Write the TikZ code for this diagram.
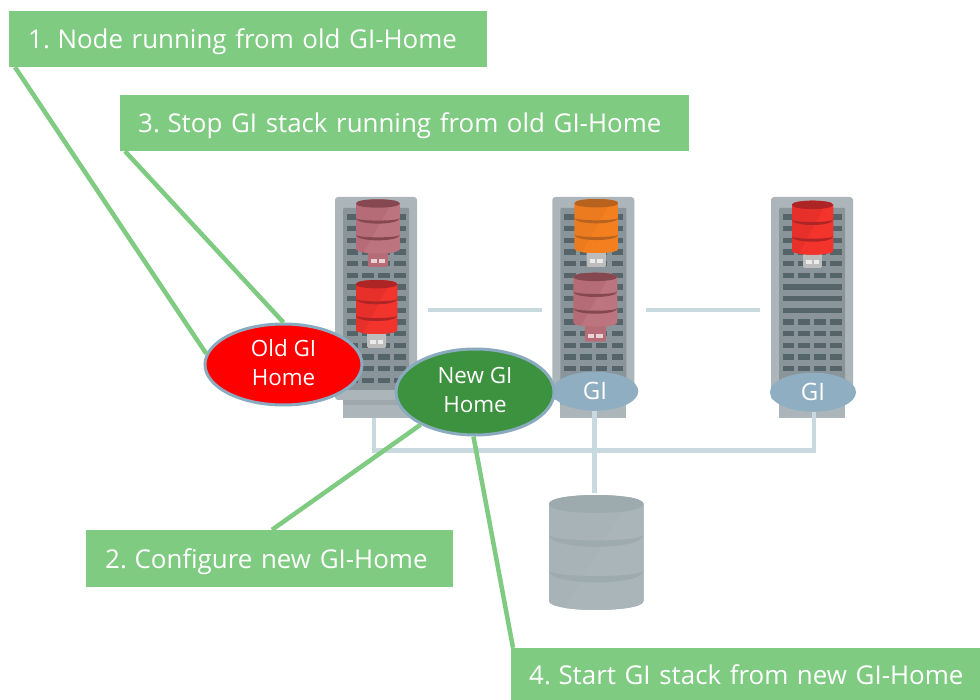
\documentclass[tikz,border=0pt]{standalone}
\usepackage{fontspec}
\setmainfont{Open Sans}
\usetikzlibrary{shapes.geometric}
\definecolor{boxgreen}{HTML}{7FCB82}
\definecolor{linkblue}{HTML}{C8DAE0}
\definecolor{ringblue}{HTML}{8AABBF}
\definecolor{giblue}{HTML}{8FAEC2}
\definecolor{newgreen}{HTML}{3C923E}
\definecolor{srvouter}{HTML}{ACB6BA}
\definecolor{srvinner}{HTML}{89959A}
\definecolor{srvslot}{HTML}{556469}
\definecolor{srvband}{HTML}{9EA9AD}
\definecolor{rosemain}{HTML}{B56C76}
\definecolor{roselight}{HTML}{BC747E}
\definecolor{rosedark}{HTML}{854850}
\definecolor{redmain}{HTML}{E8302B}
\definecolor{redlight}{HTML}{F2342D}
\definecolor{reddark}{HTML}{AE2526}
\definecolor{orgmain}{HTML}{EC7A1E}
\definecolor{orglight}{HTML}{F47F1F}
\definecolor{orgdark}{HTML}{B8621F}
\definecolor{usbgrey}{HTML}{BDBDBD}
\definecolor{bigmain}{HTML}{A8B3B7}
\definecolor{biglight}{HTML}{AAB5B9}
\definecolor{bigdark}{HTML}{9DAAAE}
\newcommand{\stepstrut}{\rule[-6pt]{0pt}{32pt}}
\newcommand{\numgap}{\kern-1pt\ }
\newcommand{\ovalstrut}{\rule[-4pt]{0pt}{4pt}}
\tikzset{
  stepbox/.style={fill=boxgreen,text=white,anchor=west,inner xsep=19pt,inner ysep=0pt,align=left,font=\fontsize{25.9}{30}\selectfont},
  greenlink/.style={draw=boxgreen,line width=4.5pt},
  bluelink/.style={draw=linkblue,line width=4.5pt},
  homeoval/.style={ellipse,draw=ringblue,line width=3pt,text=white,inner sep=0pt,align=center,font=\fontsize{22.4}{28.5}\selectfont},
  gioval/.style={ellipse,fill=giblue,text=white,inner sep=0pt,font=\fontsize{24}{28}\selectfont},
}
\newcommand{\serverrack}[2]{%
  \begin{scope}[xshift=#1pt]
    \fill[srvouter] (343,395) rectangle (409,418);
    \fill[srvband] (343,400) rectangle (409,405);
    \fill[srvouter,rounded corners=3pt] (335,197) rectangle (417,400);
    \fill[srvinner,rounded corners=1pt] (343,208) rectangle (409,390);
    \foreach \r in {0,...,14}{
      \pgfmathsetmacro{\yy}{214.2+\r*11.67}
      \pgfmathtruncatemacro{\solid}{#2*(\r>5)*(\r<9)}
      \ifnum\solid=1
        \fill[srvslot] (346.5,\yy) rectangle (406,\yy+5.5);
      \else
        \foreach \c in {346.5,362.4,378.3,394.2}{
          \fill[srvslot] (\c,\yy) rectangle (\c+11.8,\yy+5.5);
        }
      \fi
    }
  \end{scope}}
\newcommand{\dbbody}[8]{%
  \pgfmathsetmacro{\dl}{#1-#3/2}
  \pgfmathsetmacro{\dr}{#1+#3/2}
  \pgfmathsetmacro{\dt}{#2+#5}
  \pgfmathsetmacro{\db}{#2+#4-#5*1.0}
  \pgfmathsetmacro{\dtc}{#2-#5/3}
  \pgfmathsetmacro{\dtd}{#2+#5*2.33}
  \pgfmathsetmacro{\dbc}{\db+#5*1.33}
  \begin{scope}
    \path[clip] (\dl,\dt) .. controls (\dl,\dtc) and (\dr,\dtc) .. (\dr,\dt) -- (\dr,\db) .. controls (\dr,\dbc) and (\dl,\dbc) .. (\dl,\db) -- cycle;
    \fill[#6] (\dl,#2-1) rectangle (\dr,#2+#4+1);
    \fill[#7] (\dr,#2-1) -- (\dr,#2+#4+1) -- (#1-#3*0.35,#2+#4+1) -- (#1+#3*0.38,#2-1) -- cycle;
    \fill[#8] (\dl,\dt) .. controls (\dl,\dtc) and (\dr,\dtc) .. (\dr,\dt) .. controls (\dr,\dtd) and (\dl,\dtd) .. (\dl,\dt) -- cycle;
    \foreach \f in {0.345,0.655}{
      \pgfmathsetmacro{\by}{#2+#4*\f}
      \pgfmathsetmacro{\bu}{\by+#5*0.85}
      \pgfmathsetmacro{\bd}{\by+#5*1.8}
      \fill[#8] (\dl,\by) .. controls (\dl,\bu) and (\dr,\bu) .. (\dr,\by) .. controls (\dr,\bd) and (\dl,\bd) .. (\dl,\by) -- cycle;
    }
  \end{scope}}
\newcommand{\dbplug}[9]{%
  \pgfmathsetmacro{\pl}{#1-#4/2}
  \pgfmathsetmacro{\pr}{#1+#4/2}
  \fill[#9,rounded corners=1.5pt] (\pl,#2+50) rectangle (\pr,#5);
  \fill[white,opacity=.7] (\pl+3,#5-8) rectangle (\pl+#4/2-1,#5-4);
  \fill[white,opacity=.7] (\pr-#4/2+1,#5-8) rectangle (\pr-3,#5-4);
  \dbbody{#1}{#2}{#3}{54}{4.2}{#6}{#7}{#8}}
\begin{document}
\begin{tikzpicture}[x=1pt,y=-1pt]
\useasboundingbox (0,0) rectangle (980,700);
\fill[white] (0,0) rectangle (980,700);
\serverrack{0}{0}
\serverrack{217.3}{0}
\serverrack{436}{1}
\dbplug{377.8}{199.3}{44}{20}{267}{rosemain}{roselight}{rosedark}{rosemain}
\dbplug{376.5}{280}{41.6}{19}{348}{redmain}{redlight}{reddark}{usbgrey}
\dbplug{596.3}{199}{44}{19.3}{267}{orgmain}{orglight}{orgdark}{usbgrey}
\dbplug{595.3}{272.7}{44}{21}{341.7}{rosemain}{roselight}{rosedark}{rosemain}
\dbplug{812.5}{200.7}{41.6}{18.7}{268}{redmain}{redlight}{reddark}{usbgrey}
\dbbody{596.2}{495}{94.6}{115}{9}{bigmain}{biglight}{bigdark}
\node[stepbox,text width=440pt,minimum height=56pt] (s1) at (9,39) {\stepstrut\mbox{1.\numgap Node running from old GI-Home}};
\node[stepbox,text width=533pt,minimum height=56pt,inner xsep=18pt] (s3) at (120,123) {\stepstrut\mbox{3.\numgap Stop GI stack running from old GI-Home}};
\node[stepbox,text width=329pt,minimum height=57pt] (s2) at (86,558.5) {\stepstrut\mbox{2.\numgap Configure new GI-Home}};
\node[stepbox,text width=433pt,minimum height=52pt,inner xsep=18pt] (s4) at (511,674) {\stepstrut\mbox{4.\numgap Start GI stack from new GI-Home}};
\node[gioval,minimum width=86.6pt,minimum height=39pt] (gi2) at (595,391.2) {GI};
\node[gioval,minimum width=86pt,minimum height=39pt] (gi3) at (813,392.2) {GI};
\coordinate (lan1a) at (428,310);
\coordinate (lan1b) at (542,310);
\coordinate (lan2a) at (646,310);
\coordinate (lan2b) at (760,310);
\coordinate (srv1base) at (374,418);
\coordinate (busl) at (374,450.5);
\coordinate (busr) at (814,450.5);
\coordinate (srv2base) at (594.5,411);
\coordinate (srv3base) at (814,412);
\coordinate (storetop) at (594.5,493);
\draw[bluelink] (lan1a) -- (lan1b);
\draw[bluelink] (lan2a) -- (lan2b);
\draw[bluelink] (srv1base) -- (busl) -- (busr) -- (srv3base);
\draw[bluelink] (srv2base) -- (storetop);
\node[homeoval,fill=red,minimum width=157pt,minimum height=81pt] (old) at (283.5,364.5) {Old GI\\Home\ovalstrut};
\node[homeoval,fill=newgreen,minimum width=158pt,minimum height=86pt] (new) at (475,392) {New GI\\Home\ovalstrut};
\draw[greenlink] ([xshift=6pt]s1.south west) -- (old.172);
\draw[greenlink] ([xshift=5pt]s3.south west) -- (old.north);
\draw[greenlink] (new.211) -- ([xshift=186pt]s2.north west);
\draw[greenlink] (new.268) -- ([xshift=2pt]s4.north west);
\end{tikzpicture}
\end{document}
